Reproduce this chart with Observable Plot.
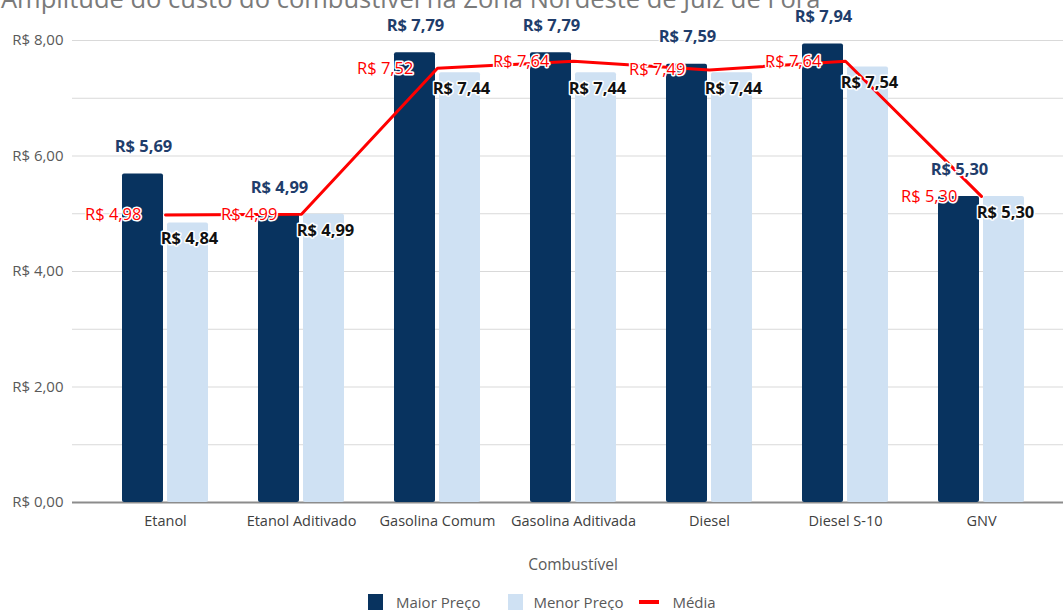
<!DOCTYPE html>
<html>
<head>
<meta charset="utf-8">
<script src="https://cdn.jsdelivr.net/npm/d3@7"></script>
<script src="https://cdn.jsdelivr.net/npm/@observablehq/plot@0.6"></script>
<style>
  html, body { margin: 0; padding: 0; background: #fff; overflow: hidden; }
  #wrap { position: relative; width: 1063px; height: 610px; font-family: "Open Sans", sans-serif; }
  #title { position: absolute; left: 1px; top: -14px; font-size: 25.5px; line-height: 25px; color: #7a7a7a; white-space: nowrap; }
  #chart { position: absolute; left: 0; top: 0; }
  #xlabel { position: absolute; left: 0; width: 1146px; top: 553px; text-align: center; font-size: 15.5px; color: #595959; }
  #legend { position: absolute; top: 594px; left: 368px; display: flex; align-items: flex-start; font-size: 15px; line-height: 18px; color: #595959; white-space: nowrap; }
  .sw { width: 15px; height: 17px; margin-right: 13px; }
  .item { display: flex; align-items: flex-start; }
  .item span { position: relative; top: -1px; }
  .ln { width: 20px; height: 4px; background: #ff0000; margin-top: 6px; margin-right: 13px; }
</style>
</head>
<body>
<div id="wrap">
  <div id="chart"></div>
  <div id="title">Amplitude do custo do combustível na Zona Nordeste de Juiz de Fora</div>
  <div id="xlabel">Combustível</div>
  <div id="legend">
    <div class="item" style="margin-right:28px"><div class="sw" style="background:#08335f"></div><span>Maior Preço</span></div>
    <div class="item" style="margin-right:16px"><div class="sw" style="background:#cfe1f3;margin-right:10px"></div><span>Menor Preço</span></div>
    <div class="item"><div class="ln"></div><span>Média</span></div>
  </div>
</div>
<script>
const categories = ["Etanol", "Etanol Aditivado", "Gasolina Comum", "Gasolina Aditivada", "Diesel", "Diesel S-10", "GNV"];
const maiorPreco = [5.69, 4.99, 7.79, 7.79, 7.59, 7.94, 5.30];
const menorPreco = [4.84, 4.99, 7.44, 7.44, 7.44, 7.54, 5.30];
const media      = [4.98, 4.99, 7.52, 7.64, 7.49, 7.64, 5.30];
const yTicks = [0, 2, 4, 6, 8];
const gridValues = [1, 2, 3, 4, 5, 6, 7, 8];

const data = categories.map((c, i) => ({cat: c, maior: maiorPreco[i], menor: menorPreco[i], media: media[i]}));
const brl = d => "R$ " + d.toFixed(2).replace(".", ",");

const dark = "#08335f", light = "#cfe1f3", red = "#ff0000";

const chart = Plot.plot({
  width: 1063,
  height: 540,
  marginLeft: 72,
  marginRight: 0,
  marginTop: 40,
  marginBottom: 38,
  style: {fontFamily: "Open Sans, sans-serif", fontSize: "13px", color: "#404040", background: "transparent"},
  x: {domain: categories, paddingInner: 0.37, paddingOuter: 0.315, align: 0.56, label: null},
  y: {domain: [0, 8], label: null},
  marks: [
    Plot.ruleY(gridValues, {stroke: "#d9d9d9", strokeWidth: 1}),
    Plot.ruleY([0], {stroke: "#8c8c8c", strokeWidth: 2}),
    Plot.axisY(yTicks, {tickSize: 0, tickPadding: 9, tickFormat: brl, fontSize: 15, fill: "#595959", label: null}),
    Plot.axisX({tickSize: 0, tickPadding: 13, fontSize: 14.5, fill: "#404040", label: null}),
    Plot.barY(data, {x: "cat", y: "maior", fill: dark, insetRight: 45, rx: 2}),
    Plot.barY(data, {x: "cat", y: "menor", fill: light, insetLeft: 45, rx: 2}),
    Plot.lineY(data, {x: "cat", y: "media", stroke: red, strokeWidth: 3}),
    Plot.text(data, {x: "cat", y: "maior", text: d => brl(d.maior), dx: -22, dy: -27, fill: "#1f3d6b", fontWeight: "bold", fontSize: 16.5, stroke: "white", strokeWidth: 3, paintOrder: "stroke"}),
    Plot.text(data, {x: "cat", y: "menor", text: d => brl(d.menor), dx: 24, dy: 16, fill: "#111", fontWeight: "bold", fontSize: 16.5, stroke: "white", strokeWidth: 3, paintOrder: "stroke"}),
    Plot.text(data, {x: "cat", y: "media", text: d => brl(d.media), dx: -24, textAnchor: "end", fill: red, fontSize: 16.5, stroke: "white", strokeWidth: 3, paintOrder: "stroke"})
  ]
});
document.getElementById("chart").appendChild(chart);
</script>
</body>
</html>
